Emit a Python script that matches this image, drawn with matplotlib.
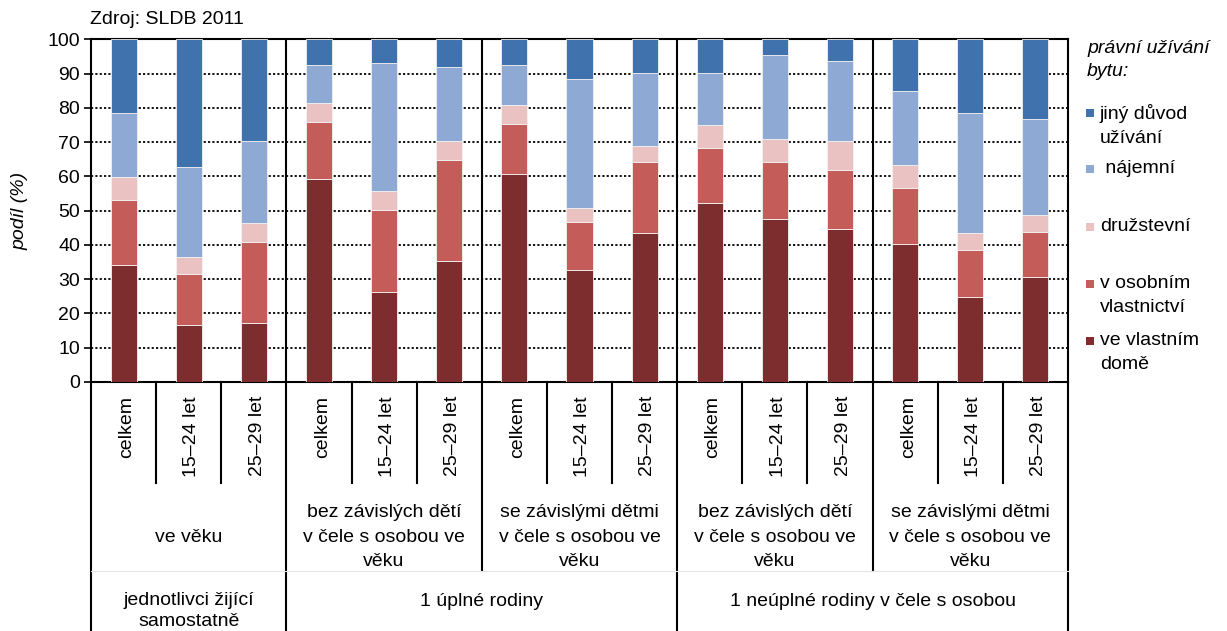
import matplotlib
matplotlib.use("Agg")
import matplotlib.pyplot as plt
import matplotlib.transforms as mtransforms
from matplotlib.patches import Rectangle
import numpy as np

plt.rcParams['font.family'] = ['Liberation Sans', 'DejaVu Sans']

age_labels = ["celkem", "15–24 let", "25–29 let"] * 5
group_labels = ["ve věku",
                "bez závislých dětí\nv čele s osobou ve\nvěku",
                "se závislými dětmi\nv čele s osobou ve\nvěku",
                "bez závislých dětí\nv čele s osobou ve\nvěku",
                "se závislými dětmi\nv čele s osobou ve\nvěku"]
top_labels = ["jednotlivci žijící\nsamostatně", "1 úplné rodiny",
              "1 neúplné rodiny v čele s osobou"]

series_names = ["ve vlastním\ndomě", "v osobním\nvlastnictví", "družstevní",
                " nájemní", "jiný důvod\nužívání"]
vlastni_dum = [34.0, 16.5, 17.1, 59.1, 26.4, 35.3, 60.8, 32.8, 43.4, 52.1, 47.5, 44.5, 40.4, 24.7, 30.5]
osobni_vlast = [19.2, 15.1, 23.8, 16.9, 23.9, 29.6, 14.6, 14.0, 20.9, 16.3, 16.8, 17.5, 16.3, 13.9, 13.4]
druzstevni = [6.5, 4.8, 5.5, 5.3, 5.3, 5.3, 5.3, 4.1, 4.7, 6.5, 6.5, 8.2, 6.5, 4.8, 4.8]
najemni = [18.7, 26.4, 23.9, 11.1, 37.4, 21.6, 11.7, 37.4, 21.1, 15.2, 24.5, 23.4, 21.6, 35.0, 27.9]
jiny = [21.6, 37.2, 29.7, 7.6, 7.0, 8.2, 7.6, 11.7, 9.9, 9.9, 4.7, 6.4, 15.2, 21.6, 23.4]
series = [vlastni_dum, osobni_vlast, druzstevni, najemni, jiny]
colors = ['#7E2D2F', '#C45C59', '#EAC2C2', '#8EA9D4', '#4072AD']

FS = 14
LS = 1.55

W, H = 1227, 631
fig = plt.figure(figsize=(W / 100, H / 100), dpi=100)
L, R, T, B = 91, 1068, 39.3, 382
ax = fig.add_axes([L / W, 1 - B / H, (R - L) / W, (B - T) / H])

x = np.arange(len(age_labels))
bottom = np.zeros(len(x))
for vals, c, name in zip(series, colors, series_names):
    ax.bar(x, vals, 0.4, bottom=bottom, color=c, edgecolor='#f2f2f2',
           linewidth=0.6, label=name, zorder=3)
    bottom += np.array(vals)

ax.set_xlim(-0.5, len(x) - 0.5)
ax.set_ylim(0, 100)
ax.set_yticks(range(0, 101, 10))
ax.tick_params(axis='y', labelsize=FS, length=5, width=1.2, direction='out', pad=3)
ax.set_xticks([])
for yv in range(10, 100, 10):
    ax.axhline(yv, color='black', linestyle=(0, (1.2, 1.2)), linewidth=1.3, zorder=1)
for s in ax.spines.values():
    s.set_linewidth(1.5)
    s.set_color('black')

# group separators inside plot
for b in [2.5, 5.5, 8.5, 11.5]:
    ax.axvline(b, color='black', linewidth=1.5, zorder=2)

ax.set_ylabel("podíl (%)", fontsize=FS, style='italic')
ax.yaxis.set_label_coords(-0.064, 0.5)

trans = mtransforms.blended_transform_factory(ax.transData, ax.transAxes)
ph = B - T
def ay(py):
    return (B - py) / ph

y1 = ay(483)
y2 = ay(571)
y3 = ay(640)

# category table below the axis
for b in np.arange(0.5, 14.0, 1.0):
    if b in (2.5, 5.5, 8.5, 11.5):
        continue
    ax.plot([b, b], [0, y1], transform=trans, color='black', lw=1.5, clip_on=False)
for b in [5.5, 11.5]:
    ax.plot([b, b], [0, y2], transform=trans, color='black', lw=1.5, clip_on=False)
for b in [-0.5, 2.5, 8.5, 14.5]:
    ax.plot([b, b], [0, y3], transform=trans, color='black', lw=1.5, clip_on=False)
ax.plot([-0.5, 14.5], [y2, y2], transform=trans, color='#e6e6e6', lw=0.8, clip_on=False)

for xi, lab in zip(x, age_labels):
    ax.text(xi + 0.05, ay(396), lab, transform=trans, rotation=90, ha='center',
            va='top', fontsize=FS)
for gi, lab in enumerate(group_labels):
    ax.text(3 * gi + 1, ay(537), lab, transform=trans, ha='center', va='center',
            fontsize=FS, linespacing=LS)
ax.text(1, ay(611), top_labels[0], transform=trans, ha='center', va='center',
        fontsize=FS, linespacing=1.35)
ax.text(5.5, ay(601), top_labels[1], transform=trans, ha='center', va='center', fontsize=FS)
ax.text(11.5, ay(601), top_labels[2], transform=trans, ha='center', va='center', fontsize=FS)

fig.text(90 / W, 1 - 20 / H, "Zdroj: SLDB 2011", fontsize=FS, ha='left', va='center')

# legend (laid out as in the reference)
fig.text(1087 / W, 1 - 60 / H, "právní užívání\nbytu:", style='italic', fontsize=FS,
         ha='left', va='center', linespacing=1.5)
leg_y = [341, 284, 227, 169, 113]
for name, c, yy in zip(series_names, colors, leg_y):
    fig.patches.append(Rectangle((1086 / W, 1 - (yy + 4) / H), 8 / W, 8 / H,
                                 transform=fig.transFigure, facecolor=c, edgecolor='none'))
    fig.text(1100 / W, 1 - (yy - 9) / H, name, fontsize=FS, ha='left', va='top',
             linespacing=LS)

fig.savefig("out.png", dpi=100)
